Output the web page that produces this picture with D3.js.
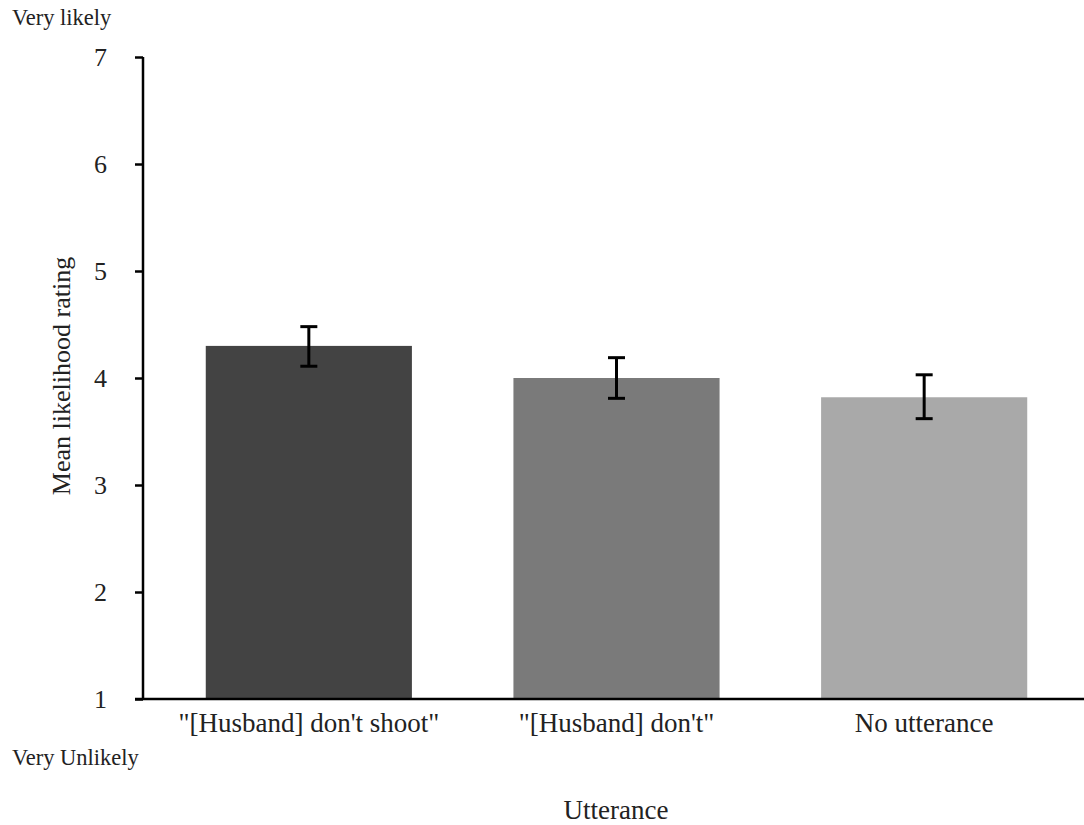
<!DOCTYPE html>
<html>
<head>
<meta charset="utf-8">
<script src="https://cdn.jsdelivr.net/npm/d3@7"></script>
<style>
  html, body { margin: 0; padding: 0; background: #fff; }
  svg text { font-family: "Liberation Serif", "DejaVu Serif", serif; fill: #222; }
</style>
</head>
<body>
<svg id="chart" width="1084" height="825"></svg>
<script>
// Mean likelihood ratings by utterance condition, with standard-error bars
const categories = ['"[Husband] don\'t shoot"', '"[Husband] don\'t"', 'No utterance'];
const means = [4.30, 4.00, 3.82];
const errLow = [4.11, 3.81, 3.62];
const errHigh = [4.48, 4.19, 4.03];
const barColors = ["#434343", "#7a7a7a", "#a9a9a9"];
const yTicks = [1, 2, 3, 4, 5, 6, 7];

const svg = d3.select("#chart");
const axisX = 143, baseY = 699, topY = 57;

const x = d3.scaleBand()
  .domain(categories)
  .range([155, 1078])
  .paddingInner(0.33)
  .paddingOuter(0.165);

const y = d3.scaleLinear().domain([1, 7]).range([baseY, topY]);

// bars
svg.append("g").selectAll("rect")
  .data(categories)
  .join("rect")
  .attr("x", d => x(d))
  .attr("width", x.bandwidth())
  .attr("y", (d, i) => y(means[i]))
  .attr("height", (d, i) => y(1) - y(means[i]))
  .attr("fill", (d, i) => barColors[i]);

// error bars
const eb = svg.append("g").attr("stroke", "#000").attr("stroke-width", 3);
categories.forEach((c, i) => {
  const cx = x(c) + x.bandwidth() / 2;
  eb.append("line").attr("x1", cx).attr("x2", cx).attr("y1", y(errHigh[i])).attr("y2", y(errLow[i]));
  eb.append("line").attr("x1", cx - 8.5).attr("x2", cx + 8.5).attr("y1", y(errHigh[i])).attr("y2", y(errHigh[i]));
  eb.append("line").attr("x1", cx - 8.5).attr("x2", cx + 8.5).attr("y1", y(errLow[i])).attr("y2", y(errLow[i]));
});

// y axis
const yAxis = svg.append("g")
  .attr("transform", `translate(${axisX},0)`)
  .call(d3.axisLeft(y).tickValues(yTicks).tickFormat(d3.format("d")).tickSize(8).tickPadding(28));
yAxis.select(".domain").attr("stroke", "#000").attr("stroke-width", 2.5).attr("d", `M0,${topY}V${baseY}`);
yAxis.selectAll(".tick line").attr("stroke", "#000").attr("stroke-width", 2.5);
yAxis.selectAll(".tick text").attr("font-size", 26).attr("fill", "#222")
  .attr("font-family", "Liberation Serif, serif");

// x axis
const xAxis = svg.append("g")
  .attr("transform", `translate(0,${baseY})`)
  .call(d3.axisBottom(x).tickSize(0).tickPadding(14));
xAxis.select(".domain").attr("stroke", "#000").attr("stroke-width", 2.5).attr("d", `M${axisX - 8},0H1084`);
xAxis.selectAll(".tick text").attr("font-size", 27).attr("fill", "#222")
  .attr("font-family", "Liberation Serif, serif");

// labels
svg.append("text").attr("x", 12).attr("y", 25).attr("font-size", 22.5).text("Very likely");
svg.append("text").attr("x", 12).attr("y", 765).attr("font-size", 22.5).text("Very Unlikely");
svg.append("text").attr("x", 616).attr("y", 819).attr("font-size", 27).attr("text-anchor", "middle").text("Utterance");
svg.append("text")
  .attr("transform", "translate(70,376) rotate(-90)")
  .attr("font-size", 26).attr("text-anchor", "middle")
  .text("Mean likelihood rating");
</script>
</body>
</html>
